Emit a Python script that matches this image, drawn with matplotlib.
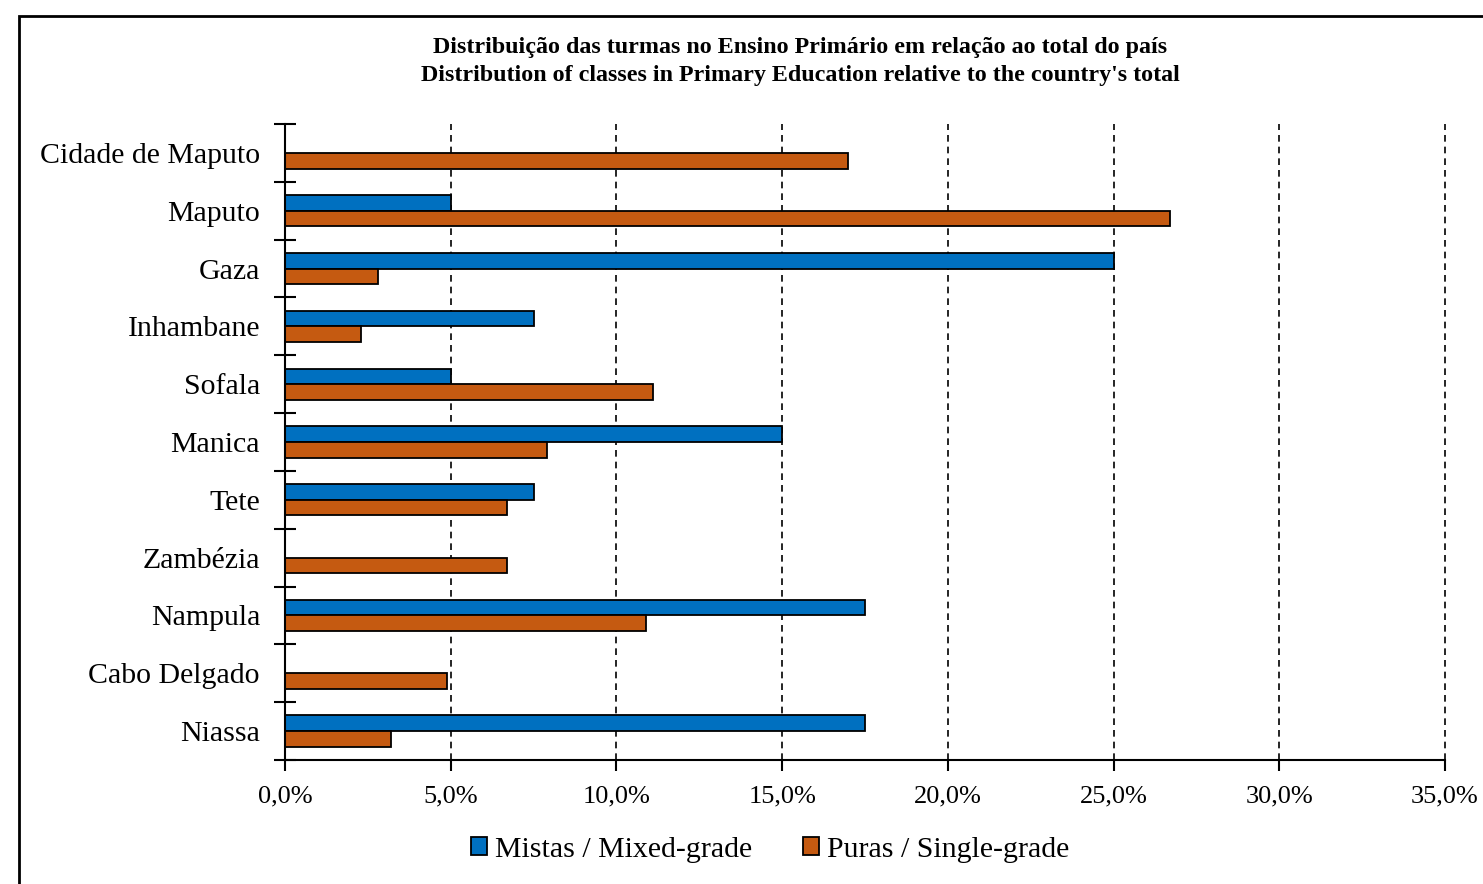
import matplotlib
matplotlib.use('Agg')
import matplotlib.pyplot as plt
import matplotlib.patches as mpatches
import numpy as np

plt.rcParams['font.family'] = ['Liberation Serif', 'DejaVu Serif']

# data (percent of national total)
provinces = ['Cidade de Maputo', 'Maputo', 'Gaza', 'Inhambane', 'Sofala', 'Manica',
             'Tete', 'Zambézia', 'Nampula', 'Cabo Delgado', 'Niassa']
mistas = [0.0, 5.0, 25.0, 7.5, 5.0, 15.0, 7.5, 0.0, 17.5, 0.0, 17.5]
puras = [17.0, 26.7, 2.8, 2.3, 11.1, 7.9, 6.7, 6.7, 10.9, 4.9, 3.2]
xticks = [0, 5, 10, 15, 20, 25, 30, 35]

blue = '#0070C0'
orange = '#C55A11'

fig = plt.figure(figsize=(14.83, 8.84), dpi=100)
ax = fig.add_axes([285 / 1483, 1 - 760 / 884, 1160 / 1483, 636 / 884])

y = np.arange(len(provinces))
h = 0.27
ax.barh(y - h / 2, mistas, height=h, color=blue, edgecolor='black', linewidth=1.3,
        label='Mistas / Mixed-grade')
ax.barh(y + h / 2, puras, height=h, color=orange, edgecolor='black', linewidth=1.3,
        label='Puras / Single-grade')

ax.set_xlim(0, 35)
ax.set_ylim(len(provinces) - 0.5, -0.5)
ax.set_xticks(xticks)
ax.set_xticklabels(['{:.1f}%'.format(v).replace('.', ',') for v in xticks], fontsize=19)
ax.set_yticks(y)
ax.set_yticklabels(provinces, fontsize=21.5)
ax.tick_params(axis='y', length=0, pad=18)
# category boundary ticks crossing the axis
ax.set_yticks(np.arange(-0.5, len(provinces)), minor=True)
ax.tick_params(axis='y', which='minor', direction='inout', length=16, width=1.5)
ax.tick_params(axis='x', direction='out', length=8, width=1.5, pad=10)

ax.grid(axis='x', color='black', linestyle=(0, (4, 3)), linewidth=1.2)
for gl in ax.get_xgridlines():
    gl.set_clip_on(False)
ax.set_axisbelow(True)
for s in ['top', 'right']:
    ax.spines[s].set_visible(False)
for s in ['left', 'bottom']:
    ax.spines[s].set_linewidth(1.5)

fig.text(800 / 1483, 1 - 48 / 884,
         'Distribuição das turmas no Ensino Primário em relação ao total do país',
         ha='center', va='center', fontsize=17.3, fontweight='bold')
fig.text(800 / 1483, 1 - 76 / 884,
         "Distribution of classes in Primary Education relative to the country's total",
         ha='center', va='center', fontsize=17.3, fontweight='bold')

fig.legend(loc='center', bbox_to_anchor=(770 / 1483, 1 - 850 / 884), ncol=2, frameon=False,
           fontsize=21.5, handlelength=0.55, handleheight=0.55, handletextpad=0.25,
           columnspacing=1.7)

# outer frame of the chart area
fig.add_artist(mpatches.Rectangle((19 / 1483, -0.05), 1.2, 1 - 16 / 884 + 0.05,
                                  transform=fig.transFigure, fill=False,
                                  edgecolor='black', linewidth=2))

fig.savefig('out.png', dpi=100)
